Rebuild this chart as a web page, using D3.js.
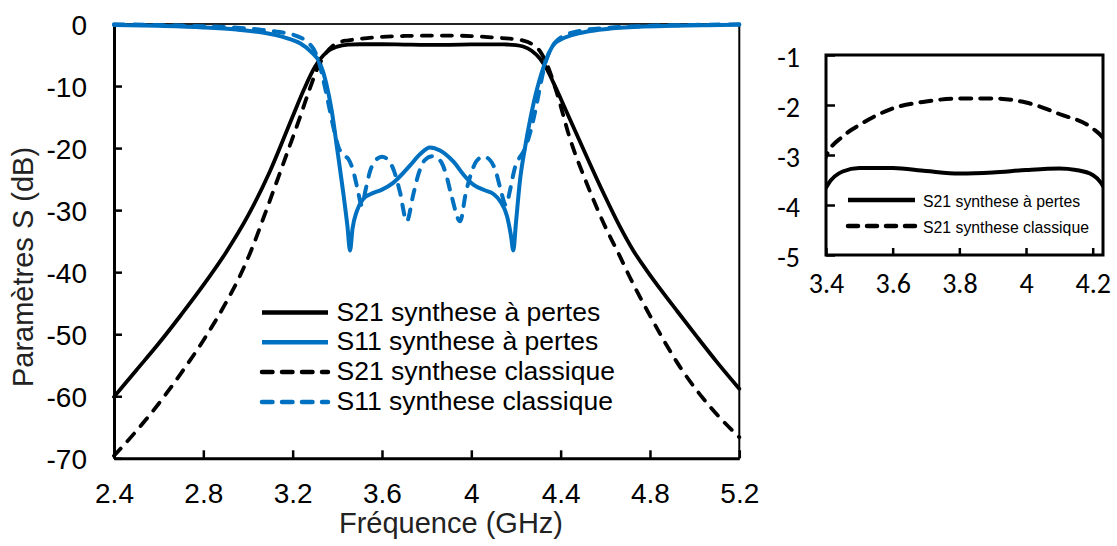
<!DOCTYPE html>
<html><head><meta charset="utf-8">
<script src="https://cdn.jsdelivr.net/npm/d3@7"></script>
<style>body{margin:0;background:#fff} svg{display:block}</style>
</head><body>
<svg id="chart" width="1117" height="546"></svg>
<script>
// ---------- data ----------
const xTickValues = [2.4, 2.8, 3.2, 3.6, 4.0, 4.4, 4.8, 5.2];
const xTickLabels = ["2.4", "2.8", "3.2", "3.6", "4", "4.4", "4.8", "5.2"];
const yTickValues = [0, -10, -20, -30, -40, -50, -60, -70];
const yTickLabels = ["0", "-10", "-20", "-30", "-40", "-50", "-60", "-70"];
const insetXTickValues = [3.4, 3.6, 3.8, 4.0, 4.2];
const insetXTickLabels = ["3.4", "3.6", "3.8", "4", "4.2"];
const insetYTickValues = [-1, -2, -3, -4, -5];
const insetYTickLabels = ["-1", "-2", "-3", "-4", "-5"];
const seriesNames = ["S21 synthese à pertes", "S11 synthese à pertes", "S21 synthese classique", "S11 synthese classique"];
const insetSeriesNames = ["S21 synthese à pertes", "S21 synthese classique"];
const xTitle = "Fréquence (GHz)";
const yTitle = "Paramètres S (dB)";

// [frequency GHz, dB]
const s21Pertes = [[2.4,-60.1],[2.5,-55.8],[2.6,-51.5],[2.7,-46.9],[2.8,-42.1],[2.9,-36.9],[3.0,-30.9],[3.1,-23.6],[3.2,-14.9],[3.25,-10.6],[3.3,-6.9],[3.35,-4.6],[3.4,-3.65],[3.45,-3.33],[3.5,-3.26],[3.6,-3.26],[3.7,-3.32],[3.8,-3.37],[3.9,-3.35],[4.0,-3.30],[4.1,-3.27],[4.15,-3.30],[4.2,-3.40],[4.232,-3.63],[4.27,-4.3],[4.308,-5.6],[4.34,-7.4],[4.367,-9.4],[4.4,-12.0],[4.442,-15.4],[4.517,-21.4],[4.591,-27.2],[4.666,-32.7],[4.725,-36.5],[4.785,-39.7],[4.85,-42.9],[4.92,-46.2],[5.01,-50.4],[5.1,-54.5],[5.2,-58.8]];
const s11Pertes = [[2.4,-0.15],[2.6,-0.3],[2.8,-0.55],[2.95,-0.9],[3.05,-1.3],[3.12,-1.75],[3.18,-2.35],[3.233,-3.1],[3.28,-4.4],[3.322,-6.3],[3.35,-9.5],[3.375,-14.0],[3.4,-20.3],[3.427,-27.3],[3.445,-32.5],[3.457,-36.5],[3.468,-33.0],[3.487,-30.2],[3.516,-28.2],[3.55,-27.4],[3.6,-26.7],[3.65,-25.6],[3.726,-22.8],[3.77,-21.0],[3.815,-19.9],[3.86,-20.4],[3.92,-22.2],[3.97,-24.5],[4.009,-25.9],[4.06,-26.8],[4.099,-27.4],[4.13,-28.6],[4.16,-31.0],[4.177,-34.0],[4.188,-36.5],[4.2,-32.0],[4.218,-25.2],[4.24,-20.0],[4.263,-15.5],[4.285,-11.8],[4.308,-8.7],[4.338,-5.5],[4.367,-3.4],[4.4,-2.5],[4.45,-1.8],[4.52,-1.2],[4.606,-0.8],[4.75,-0.45],[4.9,-0.3],[5.05,-0.2],[5.2,-0.12]];
const s21Classique = [[2.4,-69.6],[2.5,-65.6],[2.6,-61.2],[2.7,-56.3],[2.8,-51.0],[2.9,-45.0],[2.964,-40.6],[3.02,-36.0],[3.069,-31.3],[3.158,-22.5],[3.233,-15.0],[3.278,-10.3],[3.308,-7.4],[3.345,-4.9],[3.38,-3.5],[3.4,-3.03],[3.45,-2.63],[3.5,-2.40],[3.6,-2.07],[3.7,-1.93],[3.8,-1.87],[3.9,-1.87],[4.0,-1.95],[4.1,-2.18],[4.2,-2.47],[4.232,-2.67],[4.27,-3.2],[4.308,-4.4],[4.34,-6.6],[4.382,-11.0],[4.442,-18.5],[4.517,-25.7],[4.591,-32.0],[4.666,-37.5],[4.711,-40.9],[4.8,-47.0],[4.935,-55.3],[5.084,-62.3],[5.2,-66.6]];
const s11Classique = [[2.4,-0.05],[2.7,-0.25],[2.9,-0.5],[3.05,-0.9],[3.143,-1.3],[3.2,-1.7],[3.242,-2.3],[3.27,-3.0],[3.293,-4.0],[3.315,-5.8],[3.336,-8.8],[3.36,-12.8],[3.381,-16.4],[3.405,-19.8],[3.43,-21.2],[3.45,-21.8],[3.47,-23.5],[3.49,-26.5],[3.509,-29.2],[3.528,-26.5],[3.546,-23.8],[3.57,-22.0],[3.6,-21.4],[3.63,-22.0],[3.655,-23.8],[3.68,-27.0],[3.711,-31.8],[3.74,-27.5],[3.765,-24.0],[3.79,-22.0],[3.825,-21.3],[3.86,-22.0],[3.885,-24.0],[3.91,-27.5],[3.95,-31.8],[3.975,-27.3],[4.0,-24.0],[4.025,-22.0],[4.055,-21.4],[4.085,-22.0],[4.11,-23.8],[4.13,-26.5],[4.155,-29.2],[4.175,-26.5],[4.195,-23.2],[4.215,-21.6],[4.235,-20.5],[4.258,-18.2],[4.278,-15.4],[4.295,-12.5],[4.308,-10.1],[4.33,-6.5],[4.353,-4.2],[4.38,-2.8],[4.42,-1.8],[4.487,-1.1],[4.6,-0.65],[4.8,-0.3],[5.0,-0.15],[5.2,-0.05]];

// ---------- styles ----------
const BLUE = "#0070C0";
const mainSeries = [
  {name: seriesNames[0], data: s21Pertes, color: "#000", dash: null, w: 3.8},
  {name: seriesNames[1], data: s11Pertes, color: BLUE, dash: null, w: 4},
  {name: seriesNames[2], data: s21Classique, color: "#000", dash: "10,10", w: 3.8},
  {name: seriesNames[3], data: s11Classique, color: BLUE, dash: "10,10", w: 4}
];
const insetSeries = [
  {name: insetSeriesNames[0], data: s21Pertes, color: "#000", dash: null},
  {name: insetSeriesNames[1], data: s21Classique, color: "#000", dash: "11,9"}
];
const MAIN_FONT = "'Liberation Sans', Arial, sans-serif";
const INSET_FONT = "Carlito, Lato, 'Liberation Sans', sans-serif";

const svg = d3.select("#chart");

// ---------- main chart ----------
const x = d3.scaleLinear().domain([2.4, 5.2]).range([114, 739.3]);
const y = d3.scaleLinear().domain([-70, 0]).range([458.3, 24]);

// top and right border
svg.append("line").attr("x1", x(2.4)).attr("x2", x(5.2)).attr("y1", y(0)).attr("y2", y(0))
  .attr("stroke", "#222").attr("stroke-width", 2);
svg.append("line").attr("x1", x(5.2)).attr("x2", x(5.2)).attr("y1", y(0)).attr("y2", y(-70))
  .attr("stroke", "#000").attr("stroke-width", 2);

const yAxis = d3.axisLeft(y).tickValues(yTickValues).tickFormat((d, i) => yTickLabels[i])
  .tickSizeInner(-8).tickSizeOuter(0).tickPadding(27);
const gy = svg.append("g").attr("transform", `translate(${x(2.4)},0)`).call(yAxis);
const xAxis = d3.axisBottom(x).tickValues(xTickValues).tickFormat((d, i) => xTickLabels[i])
  .tickSizeInner(-8).tickSizeOuter(0).tickPadding(25);
const gx = svg.append("g").attr("transform", `translate(0,${y(-70)})`).call(xAxis);
[gx, gy].forEach(g => {
  g.attr("font-family", null).attr("font-size", null);
  g.select(".domain").attr("stroke", "#000").attr("stroke-width", 3);
  g.selectAll(".tick line").attr("stroke", "#000").attr("stroke-width", 2.5);
  g.selectAll(".tick text").attr("fill", "#000").style("font-family", MAIN_FONT).style("font-size", "28px");
});
gy.selectAll(".tick text").attr("dy", "0.36em");

const line = d3.line().x(d => x(d[0])).y(d => y(d[1])).curve(d3.curveMonotoneX);
const plot = svg.append("g");
mainSeries.forEach(s => {
  plot.append("path").attr("d", line(s.data)).attr("fill", "none")
    .attr("stroke", s.color).attr("stroke-width", s.w)
    .attr("stroke-linejoin", "round")
    .attr("stroke-linecap", "round")
    .attr("stroke-dasharray", s.dash);
});

// legend
const legend = svg.append("g");
mainSeries.forEach((s, i) => {
  const by = 320.5 + i * 29.8;
  legend.append("line").attr("x1", 262).attr("x2", 328).attr("y1", by - 8).attr("y2", by - 8)
    .attr("stroke", s.color).attr("stroke-width", 4.5)
    .attr("stroke-linecap", s.dash ? "round" : "butt")
    .attr("stroke-dasharray", s.dash ? "10.5,9.5" : null);
  legend.append("text").attr("x", 336.5).attr("y", by).text(s.name)
    .style("font-family", MAIN_FONT).style("font-size", "26.5px").attr("fill", "#000");
});

// axis titles
svg.append("text").attr("x", 451).attr("y", 533).attr("text-anchor", "middle").text(xTitle)
  .style("font-family", MAIN_FONT).style("font-size", "29px").attr("fill", "#222");
svg.append("text").attr("transform", "translate(33,267) rotate(-90)").attr("text-anchor", "middle").text(yTitle)
  .style("font-family", MAIN_FONT).style("font-size", "29px").attr("fill", "#222");

// ---------- inset ----------
const ix = d3.scaleLinear().domain([3.4, 4.2]).range([826, 1092.7]);
const iy = d3.scaleLinear().domain([-5, -1]).range([255, 55]);
const ixMax = ix.invert(1103);

svg.append("clipPath").attr("id", "insetClip").append("rect")
  .attr("x", ix(3.4)).attr("y", iy(-1)).attr("width", ix(ixMax) - ix(3.4)).attr("height", iy(-5) - iy(-1));

const iline = d3.line().x(d => ix(d[0])).y(d => iy(d[1])).curve(d3.curveMonotoneX);
const iplot = svg.append("g").attr("clip-path", "url(#insetClip)");
insetSeries.forEach(s => {
  iplot.append("path").attr("d", iline(s.data)).attr("fill", "none")
    .attr("stroke", s.color).attr("stroke-width", 4)
    .attr("stroke-linecap", "round").attr("stroke-linejoin", "round")
    .attr("stroke-dasharray", s.dash);
});

const ixAxis = d3.axisBottom(ix).tickValues(insetXTickValues).tickFormat((d, i) => insetXTickLabels[i])
  .tickSizeInner(-7).tickSizeOuter(0).tickPadding(18);
const iyAxis = d3.axisLeft(iy).tickValues(insetYTickValues).tickFormat((d, i) => insetYTickLabels[i])
  .tickSizeInner(-9).tickSizeOuter(0).tickPadding(26);
const igx = svg.append("g").attr("transform", `translate(0,${iy(-5)})`).call(ixAxis);
const igy = svg.append("g").attr("transform", `translate(${ix(3.4)},0)`).call(iyAxis);
[igx, igy].forEach(g => {
  g.attr("font-family", null).attr("font-size", null);
  g.select(".domain").remove();
  g.selectAll(".tick line").attr("stroke", "#000").attr("stroke-width", 2.5);
  g.selectAll(".tick text").attr("fill", "#000").style("font-family", INSET_FONT).style("font-size", "28px");
});
igy.selectAll(".tick text").attr("dy", "0.4em");

// inset frame
svg.append("rect").attr("x", ix(3.4)).attr("y", iy(-1))
  .attr("width", ix(ixMax) - ix(3.4)).attr("height", iy(-5) - iy(-1))
  .attr("fill", "none").attr("stroke", "#000").attr("stroke-width", 3);

// inset legend
const ilegend = svg.append("g");
insetSeries.forEach((s, i) => {
  const by = 206.5 + i * 26;
  ilegend.append("line").attr("x1", 848).attr("x2", 915).attr("y1", by - 6.5).attr("y2", by - 6.5)
    .attr("stroke", s.color).attr("stroke-width", 4.5)
    .attr("stroke-linecap", s.dash ? "round" : "butt")
    .attr("stroke-dasharray", s.dash ? "10,9" : null);
  ilegend.append("text").attr("x", 923).attr("y", by).text(s.name)
    .style("font-family", MAIN_FONT).style("font-size", "15.8px").attr("fill", "#000");
});
</script>
</body></html>
